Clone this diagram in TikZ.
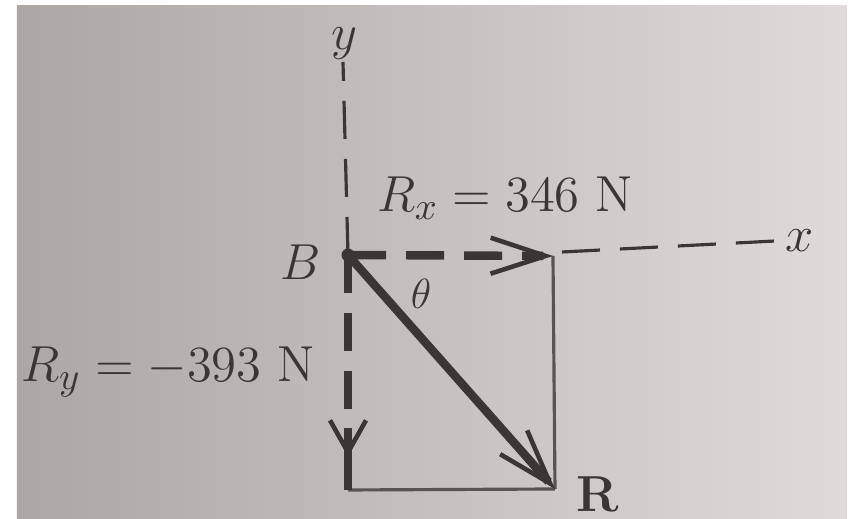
\documentclass[tikz,border=0pt]{standalone}
\usepackage{amsmath,amssymb}
\usetikzlibrary{positioning,arrows.meta}
\usepackage{xcolor}
\definecolor{ink}{RGB}{58,54,54}
\definecolor{paperL}{RGB}{172,167,164}
\definecolor{paperR}{RGB}{224,219,219}

\begin{document}
\begin{tikzpicture}[x=0.01cm,y=-0.01cm,
  >={Straight Barb[length=5.5mm,width=3.6mm,line width=1.3pt]},
  axis/.style={draw=ink,line width=0.9pt,dash pattern=on 0.38cm off 0.2cm},
  comp/.style={draw=ink,line width=2.4pt,dash pattern=on 0.38cm off 0.2cm,->},
  res/.style={draw=ink,line width=2.4pt,->},
  edge/.style={draw=ink!85,line width=0.9pt},
  lbl/.style={text=ink,font=\fontsize{15}{18}\selectfont,inner sep=1pt}]
\useasboundingbox (0,0) rectangle (850,519);
\fill[white] (0,0) rectangle (850,519);
\shade[left color=paperL,right color=paperR] (17,6) rectangle (847,519);
\node[circle,fill=ink,inner sep=0pt,minimum size=0.13cm] (B) at (348,255) {};
\coordinate (ytop) at (343,62);
\coordinate (xstart) at (562,252);
\coordinate (xend) at (775,241);
\coordinate (Rx) at (553,256);
\coordinate (Ytip) at (348,457);
\coordinate (Yshaft) at (348,428);
\coordinate (Ry) at (348,490);
\coordinate (R) at (555,489);
% axes
\draw[axis] (B.center) -- (ytop);
\draw[axis] (xstart) -- (xend);
\node[lbl] (ylbl) at (344,44) {$y$};
\node[lbl] (xlbl) at (800,241) {$x$};
% rectangle sides
\draw[edge] (Rx) -- (R);
\draw[edge] (Ry) -- (R);
% vectors
\draw[comp] (B.center) -- (Rx);
\draw[comp,-{Straight Barb[length=3.2mm,width=3.6mm,line width=1.3pt]}] (B.center) -- (Ytip);
\draw[draw=ink,line width=2.4pt] (Yshaft) -- (Ry);
\draw[res] (B.center) -- (R);
% labels
\node[lbl] (Blbl) at (301,262) {$B$};
\node[lbl,font=\fontsize{13}{15}\selectfont] (theta) at (421,294) {$\theta$};
\node[lbl] (Rlbl) at (598,494) {$\mathbf{R}$};
\node[lbl] (Rxlbl) at (505,198) {$R_x = 346\ \mathrm{N}$};
\node[lbl] (Rylbl) at (168,372) {$R_y = -393\ \mathrm{N}$};
\end{tikzpicture}
\end{document}
